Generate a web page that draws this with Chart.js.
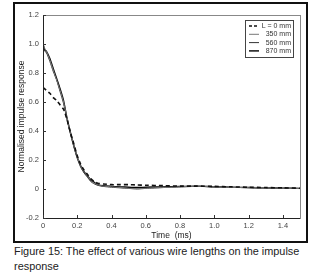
<!DOCTYPE html>
<html>
<head>
<meta charset="utf-8">
<script src="https://cdn.jsdelivr.net/npm/chart.js@4"></script>
<style>
    body { margin: 0; background: #fff; font-family: "Liberation Sans", Arial, sans-serif; }
    #chart { position: absolute; left: 13px; top: 2px; }
    #box { position: absolute; left: 13px; top: 2px; width: 291px; height: 237px; border: 2px solid #111; pointer-events: none; z-index: 5; }
    #caption { position: absolute; left: 14px; top: 244px; width: 306px; font-size: 10.9px; line-height: 15px; color: #222; }
</style>
</head>
<body>
<canvas id="chart" width="295" height="241"></canvas>
<div id="box"></div>
<div id="caption">Figure 15: The effect of various wire lengths on the impulse response</div>
<script>
const times = [0, 0.01, 0.02, 0.04, 0.06, 0.08, 0.1, 0.12, 0.14, 0.16, 0.18, 0.2, 0.22, 0.24, 0.26, 0.28, 0.3, 0.32, 0.35, 0.4, 0.45, 0.5, 0.55, 0.6, 0.7, 0.8, 0.9, 1.0, 1.1, 1.2, 1.3, 1.4, 1.5];
const len0 = [0.70, 0.69, 0.68, 0.66, 0.63, 0.61, 0.58, 0.55, 0.48, 0.39, 0.31, 0.23, 0.17, 0.13, 0.10, 0.07, 0.05, 0.04, 0.035, 0.03, 0.03, 0.03, 0.028, 0.026, 0.023, 0.02, 0.02, 0.018, 0.015, 0.012, 0.01, 0.008, 0.005];
const len350 = [1.00, 0.97, 0.95, 0.89, 0.82, 0.75, 0.68, 0.60, 0.49, 0.39, 0.30, 0.22, 0.16, 0.12, 0.09, 0.06, 0.04, 0.03, 0.02, 0.015, 0.01, 0.005, 0.003, 0.005, 0.01, 0.015, 0.02, 0.015, 0.012, 0.01, 0.008, 0.006, 0.004];
const len560 = [0.99, 0.95, 0.94, 0.88, 0.81, 0.75, 0.67, 0.59, 0.48, 0.38, 0.29, 0.21, 0.15, 0.11, 0.08, 0.05, 0.035, 0.025, 0.018, 0.012, 0.008, 0.004, 0.0, 0.004, 0.01, 0.014, 0.018, 0.014, 0.011, 0.009, 0.007, 0.005, 0.003];
const len870 = [1.00, 0.96, 0.95, 0.90, 0.83, 0.76, 0.69, 0.61, 0.49, 0.39, 0.30, 0.22, 0.16, 0.12, 0.09, 0.06, 0.045, 0.03, 0.022, 0.018, 0.015, 0.012, 0.01, 0.012, 0.015, 0.018, 0.02, 0.016, 0.013, 0.01, 0.008, 0.006, 0.004];
const seriesLabels = ['L = 0 mm', '350 mm', '560 mm', '870 mm'];
const yTicks = [-0.2, 0, 0.2, 0.4, 0.6, 0.8, 1.0, 1.2];
const xTicks = [0, 0.2, 0.4, 0.6, 0.8, 1.0, 1.2, 1.4];

function pts(values) {
    return times.map((t, i) => ({ x: t, y: values[i] }));
}

const styles = [
    { color: '#111', width: 1.6, dash: [4, 3] },
    { color: '#777', width: 1, dash: [] },
    { color: '#333', width: 1, dash: [] },
    { color: '#000', width: 1.4, dash: [] }
];

const boxPlugin = {
    id: 'boxes',
    afterDraw(chart) {
        const ctx = chart.ctx;
        const a = chart.chartArea;
        const xs = chart.scales.x, ys = chart.scales.y;
        ctx.save();
        ctx.lineWidth = 1;
        // plot box: dark left/bottom, lighter top/right
        ctx.strokeStyle = '#888';
        ctx.strokeRect(a.left + 0.5, a.top + 0.5, a.right - a.left, a.bottom - a.top);
        ctx.strokeStyle = '#222';
        ctx.beginPath();
        ctx.moveTo(a.left + 0.5, a.top);
        ctx.lineTo(a.left + 0.5, a.bottom + 0.5);
        ctx.lineTo(a.right, a.bottom + 0.5);
        ctx.stroke();

        // inward tick marks
        ctx.strokeStyle = '#333';
        ctx.beginPath();
        xTicks.forEach(v => {
            const px = Math.round(xs.getPixelForValue(v)) + 0.5;
            ctx.moveTo(px, a.bottom);
            ctx.lineTo(px, a.bottom - 3);
        });
        yTicks.forEach(v => {
            const py = Math.round(ys.getPixelForValue(v)) + 0.5;
            ctx.moveTo(a.left, py);
            ctx.lineTo(a.left + 3, py);
        });
        ctx.stroke();

        // legend box, top right inside the plot
        const bx = a.right - 55, by = a.top + 5, bw = 48, bh = 37;
        ctx.fillStyle = '#fff';
        ctx.fillRect(bx, by, bw, bh);
        ctx.strokeStyle = '#444';
        ctx.strokeRect(bx + 0.5, by + 0.5, bw, bh);
        ctx.font = '7px "Liberation Sans", Arial, sans-serif';
        ctx.textAlign = 'right';
        ctx.textBaseline = 'middle';
        seriesLabels.forEach((lab, i) => {
            const y = by + 6 + i * 8.3;
            const st = styles[i];
            ctx.strokeStyle = st.color;
            ctx.lineWidth = st.width;
            ctx.setLineDash(st.dash.length ? [3, 2] : []);
            ctx.beginPath();
            ctx.moveTo(bx + 4, y);
            ctx.lineTo(bx + 14, y);
            ctx.stroke();
            ctx.setLineDash([]);
            ctx.fillStyle = '#333';
            ctx.fillText(lab, bx + bw - 2, y);
        });
        ctx.restore();
    }
};

const chartCtx = document.getElementById('chart').getContext('2d');
const chart = new Chart(chartCtx, {
    type: 'line',
    data: {
        datasets: [len0, len350, len560, len870].map((vals, i) => ({
            label: seriesLabels[i],
            data: pts(vals),
            borderColor: styles[i].color,
            borderWidth: styles[i].width,
            borderDash: styles[i].dash,
            pointRadius: 0,
            tension: 0.2,
            fill: false
        }))
    },
    options: {
        responsive: false,
        animation: false,
        layout: { padding: { top: 13, right: 8, left: 4, bottom: 2 } },
        plugins: { legend: { display: false }, tooltip: { enabled: false } },
        scales: {
            x: {
                type: 'linear',
                min: 0,
                max: 1.5,
                afterBuildTicks: s => { s.ticks = xTicks.map(v => ({ value: v })); },
                afterFit: s => { s.height = 23; },
                grid: { drawOnChartArea: false, drawTicks: false },
                border: { display: false },
                ticks: {
                    color: '#444',
                    font: { size: 7.5, family: '"Liberation Sans", Arial' },
                    padding: 3,
                    maxRotation: 0,
                    callback: v => v === 0 ? '0' : v.toFixed(1)
                },
                title: {
                    display: true,
                    text: 'Time  (ms)',
                    color: '#222',
                    font: { size: 8.5, family: '"Liberation Sans", Arial' },
                    padding: 0
                }
            },
            y: {
                min: -0.2,
                max: 1.2,
                afterBuildTicks: s => { s.ticks = yTicks.map(v => ({ value: v })); },
                afterFit: s => { s.width = 26; },
                grid: { drawOnChartArea: false, drawTicks: false },
                border: { display: false },
                ticks: {
                    color: '#444',
                    font: { size: 7.5, family: '"Liberation Sans", Arial' },
                    padding: 4,
                    callback: v => Math.abs(v) < 1e-9 ? '0' : v.toFixed(1)
                },
                title: {
                    display: true,
                    text: 'Normalised impulse response',
                    color: '#222',
                    font: { size: 8.5, family: '"Liberation Sans", Arial' },
                    padding: 0
                }
            }
        }
    },
    plugins: [boxPlugin]
});
</script>
</body>
</html>
